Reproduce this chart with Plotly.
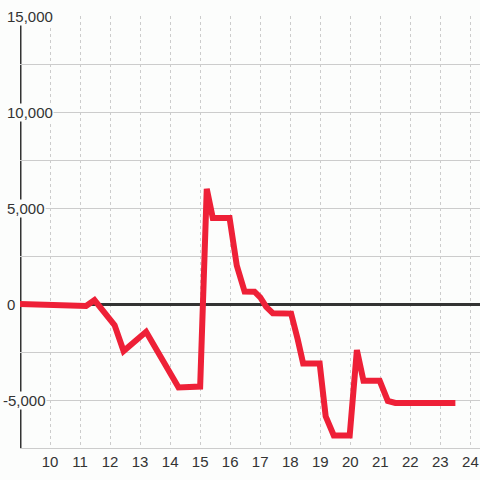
import plotly.graph_objects as go

# Data
x_vals = [9.0, 10.6, 11.2, 11.48, 12.15, 12.45, 13.2, 14.28, 15.0, 15.22, 15.42, 15.98,
          16.22, 16.48, 16.81, 17.0, 17.2, 17.42, 18.03, 18.25, 18.43, 18.98, 19.18,
          19.45, 19.98, 20.22, 20.44, 20.98, 21.25, 21.5, 23.5]
y_vals = [0, -20, -100, 200, -1100, -2450, -1450, -4350, -4300, 6000, 4480, 4480,
          2000, 650, 640, 350, -150, -480, -500, -1850, -3100, -3100, -5850,
          -6850, -6850, -2400, -4000, -4000, -5050, -5150, -5150]

x_ticks = list(range(10, 25))
y_label_vals = [15000, 10000, 5000, 0, -5000]
y_label_text = ["15,000", "10,000", "5,000", "0", "-5,000"]

BG = "#fcfdfc"
FONT = "Liberation Sans, Arial, sans-serif"

fig = go.Figure()
fig.add_trace(go.Scatter(
    x=x_vals, y=y_vals, mode="lines",
    line=dict(color="#ee2037", width=6),
    hoverinfo="skip", showlegend=False,
))

# left axis line at x=9
fig.add_shape(type="line", xref="x", yref="y", x0=9, x1=9, y0=-7500, y1=15000,
              line=dict(color="#333333", width=3), layer="below")

for v, t in zip(y_label_vals, y_label_text):
    fig.add_annotation(
        xref="paper", yref="y", x=0, y=v, text=t, showarrow=False,
        xanchor="left", yanchor="middle",
        xshift=(-18 if t.startswith("-") else -14),
        bgcolor=BG, borderpad=0,
        font=dict(size=15, color="#333333", family=FONT),
    )

fig.update_layout(
    width=480, height=480,
    margin=dict(l=20, r=0, t=16, b=32),
    paper_bgcolor=BG, plot_bgcolor=BG,
    font=dict(family=FONT, size=15, color="#333333"),
    xaxis=dict(
        range=[9, 24.32], tickvals=x_ticks, showgrid=True,
        gridcolor="#cccccc", gridwidth=1, griddash="dot",
        zeroline=False, showline=True, linecolor="#cccccc", linewidth=1,
        ticks="", tickfont=dict(size=15, color="#333333"),
    ),
    yaxis=dict(
        range=[-7500, 15000], dtick=2500, tick0=0, showgrid=True,
        gridcolor="#cccccc", gridwidth=1,
        zeroline=True, zerolinecolor="#333333", zerolinewidth=3,
        showticklabels=False, ticks="", showline=False,
    ),
)

fig.write_html(
    "out.html",
    config={"displayModeBar": False},
    post_script="document.body.style.margin='0';document.body.style.padding='0';"
                "document.body.style.background='" + BG + "';",
)
